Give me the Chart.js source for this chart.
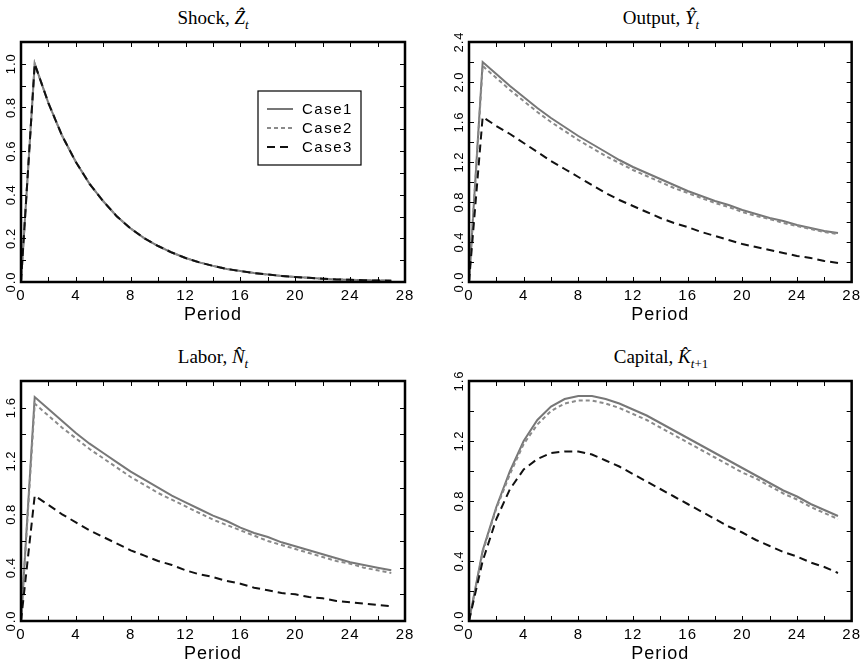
<!DOCTYPE html>
<html>
<head>
<meta charset="utf-8">
<script src="https://cdn.jsdelivr.net/npm/chart.js@4.4.0/dist/chart.umd.min.js"></script>
<style>
body { margin: 0; background: #fff; }
#wrap { position: relative; width: 865px; height: 665px; overflow: hidden; }
.ttl { position: absolute; width: 384px; text-align: center; font: 19px "Liberation Serif", "DejaVu Serif", serif; line-height: 22px; color: #000; }
.ttl sub { font-size: 13px; }
canvas { position: absolute; }
</style>
</head>
<body>
<div id="wrap">
  <div class="ttl" style="left:21px;top:7px">Shock, <i>Ẑ</i><sub><i>t</i></sub></div>
  <div class="ttl" style="left:469px;top:7px">Output, <i>Ŷ</i><sub><i>t</i></sub></div>
  <div class="ttl" style="left:21px;top:346px">Labor, <i>N&#770;</i><sub><i>t</i></sub></div>
  <div class="ttl" style="left:469px;top:346px">Capital, <i>K&#770;</i><sub><i>t</i>+1</sub></div>
  <canvas id="shock" width="432" height="300" style="left:0;top:30px"></canvas>
  <canvas id="output" width="417" height="300" style="left:448px;top:30px"></canvas>
  <canvas id="labor" width="432" height="296" style="left:0;top:369px"></canvas>
  <canvas id="capital" width="417" height="296" style="left:448px;top:369px"></canvas>
</div>
<script>
const periods = [0,1,2,3,4,5,6,7,8,9,10,11,12,13,14,15,16,17,18,19,20,21,22,23,24,25,26,27];

// shock is the same for all three cases
const shock = [0, 1.00, 0.82, 0.67, 0.55, 0.45, 0.37, 0.30, 0.245, 0.20, 0.165, 0.135, 0.11, 0.09,
  0.074, 0.06, 0.05, 0.041, 0.034, 0.028, 0.023, 0.019, 0.015, 0.012, 0.010, 0.008, 0.007, 0.006];

const outputCase1 = [0, 2.20, 2.08, 1.96, 1.85, 1.74, 1.64, 1.55, 1.46, 1.38, 1.30, 1.22, 1.15, 1.09,
  1.03, 0.97, 0.91, 0.86, 0.81, 0.77, 0.72, 0.68, 0.64, 0.61, 0.57, 0.54, 0.51, 0.49];
const outputCase2 = [0, 2.16, 2.04, 1.92, 1.81, 1.70, 1.60, 1.51, 1.42, 1.34, 1.26, 1.19, 1.12, 1.06,
  1.00, 0.94, 0.89, 0.84, 0.79, 0.75, 0.70, 0.66, 0.63, 0.59, 0.56, 0.53, 0.50, 0.48];
const outputCase3 = [0, 1.65, 1.56, 1.48, 1.39, 1.30, 1.21, 1.13, 1.05, 0.97, 0.89, 0.82, 0.76, 0.70,
  0.64, 0.59, 0.55, 0.50, 0.46, 0.42, 0.38, 0.35, 0.32, 0.29, 0.26, 0.24, 0.21, 0.19];

const laborCase1 = [0, 1.68, 1.59, 1.50, 1.41, 1.33, 1.26, 1.19, 1.12, 1.06, 1.00, 0.94, 0.89, 0.84,
  0.79, 0.75, 0.70, 0.66, 0.63, 0.59, 0.56, 0.53, 0.50, 0.47, 0.44, 0.42, 0.40, 0.38];
const laborCase2 = [0, 1.63, 1.54, 1.45, 1.37, 1.29, 1.22, 1.15, 1.08, 1.02, 0.96, 0.91, 0.86, 0.81,
  0.76, 0.72, 0.68, 0.64, 0.60, 0.57, 0.54, 0.51, 0.48, 0.45, 0.43, 0.40, 0.38, 0.36];
const laborCase3 = [0, 0.94, 0.87, 0.80, 0.74, 0.68, 0.63, 0.58, 0.53, 0.49, 0.45, 0.42, 0.38, 0.35,
  0.33, 0.30, 0.28, 0.25, 0.23, 0.21, 0.20, 0.18, 0.17, 0.15, 0.14, 0.13, 0.12, 0.11];

const capitalCase1 = [0, 0.47, 0.76, 1.00, 1.20, 1.34, 1.43, 1.48, 1.50, 1.50, 1.48, 1.45, 1.41, 1.37,
  1.32, 1.27, 1.22, 1.17, 1.12, 1.07, 1.02, 0.97, 0.92, 0.87, 0.83, 0.78, 0.74, 0.70];
const capitalCase2 = [0, 0.46, 0.75, 0.98, 1.18, 1.31, 1.40, 1.45, 1.47, 1.47, 1.45, 1.42, 1.38, 1.34,
  1.29, 1.24, 1.19, 1.14, 1.09, 1.04, 0.99, 0.95, 0.90, 0.85, 0.81, 0.76, 0.72, 0.68];
const capitalCase3 = [0, 0.40, 0.68, 0.88, 1.01, 1.08, 1.12, 1.13, 1.13, 1.11, 1.07, 1.03, 0.98, 0.93,
  0.88, 0.83, 0.78, 0.73, 0.68, 0.63, 0.59, 0.54, 0.50, 0.46, 0.43, 0.39, 0.36, 0.32];

const caseNames = ['Case1', 'Case2', 'Case3'];

const shockYLabels = [0, 0.2, 0.4, 0.6, 0.8, 1.0];
const outputYLabels = [0, 0.4, 0.8, 1.2, 1.6, 2.0, 2.4];
const laborYLabels = [0, 0.4, 0.8, 1.2, 1.6];
const capitalYLabels = [0, 0.4, 0.8, 1.2, 1.6];

const panelCfg = {};

// frame, inward ticks, rotated y labels, legend
const framePlugin = {
  id: 'frame',
  beforeDraw(chart) {
    if ('letterSpacing' in chart.ctx) chart.ctx.letterSpacing = '1px';
  },
  afterDraw(chart) {
    const cfg = panelCfg[chart.canvas.id];
    const { ctx, chartArea: a } = chart;
    const x = chart.scales.x, y = chart.scales.y;
    ctx.save();
    ctx.strokeStyle = '#000';
    ctx.lineWidth = 1;
    ctx.beginPath();
    for (let t = 2; t < 28; t += 2) {
      const px = Math.round(x.getPixelForValue(t)) + 0.5;
      ctx.moveTo(px, a.bottom); ctx.lineTo(px, a.bottom - 5);
      ctx.moveTo(px, a.top); ctx.lineTo(px, a.top + 5);
    }
    const n = Math.round(y.max / cfg.minor);
    for (let i = 1; i < n; i++) {
      const py = Math.round(y.getPixelForValue(i * cfg.minor)) + 0.5;
      ctx.moveTo(a.left, py); ctx.lineTo(a.left + 5, py);
      ctx.moveTo(a.right, py); ctx.lineTo(a.right - 5, py);
    }
    ctx.stroke();
    ctx.lineWidth = 2.5;
    ctx.strokeRect(a.left, a.top, a.right - a.left, a.bottom - a.top);

    ctx.fillStyle = '#000';
    ctx.font = '13px "Liberation Sans"';
    ctx.textAlign = 'center';
    ctx.textBaseline = 'middle';
    cfg.labels.forEach(v => {
      ctx.save();
      ctx.translate(a.left - 10, y.getPixelForValue(v));
      ctx.rotate(-Math.PI / 2);
      ctx.fillText(v.toFixed(1), 0, 0);
      ctx.restore();
    });

    if (cfg.legend) {
      const bx = a.left + 237, by = a.top + 49;
      ctx.lineWidth = 1.2;
      ctx.strokeRect(bx, by, 103, 74);
      ctx.font = '15px "Liberation Sans"';
      ctx.textAlign = 'left';
      if ('letterSpacing' in ctx) ctx.letterSpacing = '1.5px';
      chart.data.datasets.forEach((ds, i) => {
        const ly = by + 18 + i * 19;
        ctx.save();
        ctx.strokeStyle = ds.borderColor;
        ctx.lineWidth = ds.borderWidth;
        ctx.setLineDash(ds.borderDash || []);
        ctx.beginPath();
        ctx.moveTo(bx + 9, ly); ctx.lineTo(bx + 35, ly);
        ctx.stroke();
        ctx.restore();
        ctx.fillText(ds.label, bx + 44, ly + 1);
      });
    }
    ctx.restore();
  }
};

function makeChart(id, c1, c2, c3, yMax, yMinor, yLabels, showLegend, titlePad) {
  const canvas = document.getElementById(id);
  panelCfg[id] = { minor: yMinor, labels: yLabels, legend: showLegend };
  return new Chart(canvas, {
    type: 'line',
    data: {
      labels: periods,
      datasets: [
        { label: caseNames[0], data: c1, borderColor: '#777777', borderWidth: 2, order: 2 },
        { label: caseNames[1], data: c2, borderColor: '#8a8a8a', borderWidth: 2, borderDash: [4, 3], order: 1 },
        { label: caseNames[2], data: c3, borderColor: '#111111', borderWidth: 2, borderDash: [8, 5], order: 0 }
      ]
    },
    options: {
      responsive: false,
      animation: false,
      events: [],
      elements: { point: { radius: 0 }, line: { tension: 0, fill: false } },
      layout: { padding: { left: 0, right: canvas.width - 405, top: 12, bottom: 0 } },
      scales: {
        x: {
          type: 'linear', min: 0, max: 28,
          grid: { display: false, drawTicks: false },
          border: { display: false },
          ticks: { stepSize: 4, padding: 5, color: '#000', font: { family: 'Liberation Sans', size: 15 } },
          title: { display: true, text: 'Period', color: '#000',
                   font: { family: 'Liberation Sans', size: 18 }, padding: { top: 0, bottom: titlePad } },
          afterFit: s => { s.height = canvas.height - 252; }
        },
        y: {
          min: 0, max: yMax,
          grid: { display: false, drawTicks: false },
          border: { display: false },
          ticks: { display: false },
          afterFit: s => { s.width = 21; }
        }
      },
      plugins: { legend: { display: false }, tooltip: { enabled: false } }
    },
    plugins: [framePlugin]
  });
}

makeChart('shock', shock, shock, shock, 1.1, 0.1, shockYLabels, true, 4);
makeChart('output', outputCase1, outputCase2, outputCase3, 2.4, 0.2, outputYLabels, false, 4);
makeChart('labor', laborCase1, laborCase2, laborCase3, 1.8, 0.2, laborYLabels, false, 0);
makeChart('capital', capitalCase1, capitalCase2, capitalCase3, 1.6, 0.2, capitalYLabels, false, 0);
</script>
</body>
</html>
